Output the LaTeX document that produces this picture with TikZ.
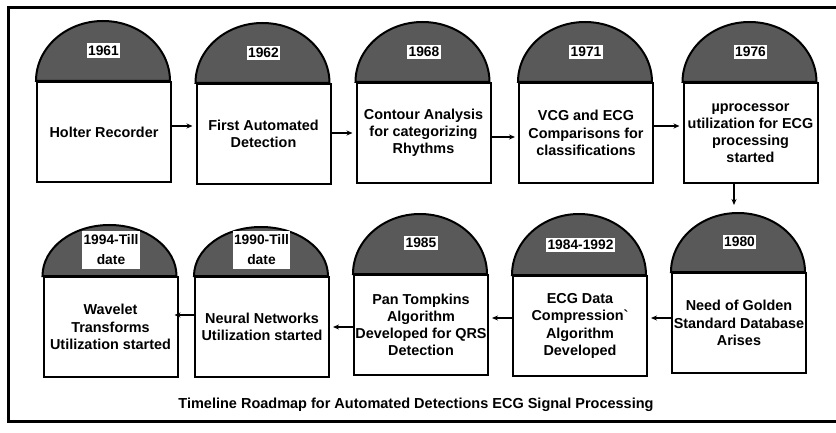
\documentclass[tikz,border=0pt]{standalone}
\usepackage{fontspec}
\setmainfont{Liberation Sans}
\newfontfamily\gravefont{Liberation Sans}
\usepackage{tikz}
\usetikzlibrary{arrows.meta}
\definecolor{domegray}{RGB}{89,89,89}

\begin{document}
\begin{tikzpicture}[x=1pt, y=-1pt,
    box/.style={draw, line width=2pt, fill=white, minimum width=134pt, minimum height=100pt,
                inner sep=1pt, align=center, font=\bfseries\fontsize{14.4}{17.2}\selectfont},
    dome/.style={draw, line width=2pt, fill=domegray},
    year/.style={fill=white, inner xsep=1.5pt, inner ysep=2.5pt, align=center,
                 font=\bfseries\fontsize{13.8}{16}\selectfont},
    yeartwo/.style={year, inner ysep=4pt, font=\bfseries\fontsize{13.8}{20}\selectfont},
    flow/.style={-{Stealth[length=6pt, width=5pt]}, line width=1.6pt, shorten >=3pt},
    frame/.style={line width=3pt}]
      \useasboundingbox (0, 0) rectangle (836, 433);
      \draw[frame] (836, 7.5) -- (8.5, 7.5) -- (8.5, 421.5) -- (836, 421.5);

      \node[box](Box1961) at (104, 132) {Holter Recorder};
      \node[box](Box1962) at (263.5, 134) {First Automated\\Detection};
      \node[box](Box1968) at (423.5, 133) {Contour Analysis\\for categorizing\\Rhythms};
      \node[box](Box1971) at (586, 133) {VCG and ECG\\Comparisons for\\classifications};
      \node[box](Box1976) at (750.5, 133) {µprocessor\\utilization for ECG\\processing\\started};

      \node[box](Box1980) at (739, 323) {Need of Golden\\Standard Database\\Arises};
      \node[box](Box1984) at (580, 326) {ECG Data\\Compression{\gravefont\bfseries\symbol{96}}\\Algorithm\\Developed};
      \node[box](Box1985) at (421, 325) {Pan Tompkins\\Algorithm\\Developed for QRS\\Detection};
      \node[box](Box1990) at (262, 327) {Neural Networks\\Utilization started};
      \node[box](Box1994) at (110.5, 327) {Wavelet\\Transforms\\Utilization started};

      \draw[dome] (Box1961.north west) arc[start angle=180, end angle=0, x radius=67pt, y radius=60pt] -- cycle;
      \draw[dome] (Box1962.north west) arc[start angle=180, end angle=0, x radius=67pt, y radius=60pt] -- cycle;
      \draw[dome] (Box1968.north west) arc[start angle=180, end angle=0, x radius=67pt, y radius=60pt] -- cycle;
      \draw[dome] (Box1971.north west) arc[start angle=180, end angle=0, x radius=67pt, y radius=60pt] -- cycle;
      \draw[dome] (Box1976.north west) arc[start angle=180, end angle=0, x radius=67pt, y radius=60pt] -- cycle;
      \draw[dome] (Box1980.north west) arc[start angle=180, end angle=0, x radius=67pt, y radius=59pt] -- cycle;
      \draw[dome] (Box1984.north west) arc[start angle=180, end angle=0, x radius=67pt, y radius=61pt] -- cycle;
      \draw[dome] (Box1985.north west) arc[start angle=180, end angle=0, x radius=67pt, y radius=60pt] -- cycle;
      \draw[dome] (Box1990.north west) arc[start angle=180, end angle=0, x radius=67pt, y radius=49pt] -- cycle;
      \draw[dome] (Box1994.north west) arc[start angle=180, end angle=0, x radius=67pt, y radius=51pt] -- cycle;

      \node[year](Year1961) at (103.5, 50.5) {1961};
      \node[year](Year1962) at (263.5, 53) {1962};
      \node[year](Year1968) at (424, 52) {1968};
      \node[year](Year1971) at (586, 52) {1971};
      \node[year](Year1976) at (750.5, 52) {1976};
      \node[year](Year1980) at (739.5, 242) {1980};
      \node[year](Year1984) at (580.5, 245) {1984-1992};
      \node[year](Year1985) at (421, 243) {1985};
      \node[yeartwo](Year1990) at (261.5, 250) {1990-Till\\date};
      \node[yeartwo](Year1994) at (111, 250) {1994-Till\\date};
      \coordinate(Top1980) at (739, 212);

      \draw[flow] (Box1961.east) ++(0, -6) coordinate (a1) -- (a1 -| Box1962.west);
      \draw[flow] (Box1962.east) ++(0, -1) coordinate (a2) -- (a2 -| Box1968.west);
      \draw[flow] (Box1968.east) ++(0, 4) coordinate (a3) -- (a3 -| Box1971.west);
      \draw[flow] (Box1971.east) ++(0, -7) coordinate (a4) -- (a4 -| Box1976.west);
      \draw[flow, shorten >=7pt] (Box1976.south) ++(-16.5, 0) coordinate (a5) -- (a5 |- Top1980);
      \draw[flow] (Box1980.west) ++(0, -5) coordinate (a6) -- (a6 -| Box1984.east);
      \draw[flow] (Box1984.west) ++(0, -8) coordinate (a7) -- (a7 -| Box1985.east);
      \draw[flow] (Box1985.west) ++(0, 2) coordinate (a8) -- (a8 -| Box1990.east);
      \draw[flow, shorten >=-4pt] (Box1990.west) ++(0, -12) coordinate (a9) -- (a9 -| Box1994.east);

      \node[font=\bfseries\fontsize{14.5}{17}\selectfont](Caption) at (416, 405)
        {Timeline Roadmap for Automated Detections ECG Signal Processing};
    \end{tikzpicture}
\end{document}
